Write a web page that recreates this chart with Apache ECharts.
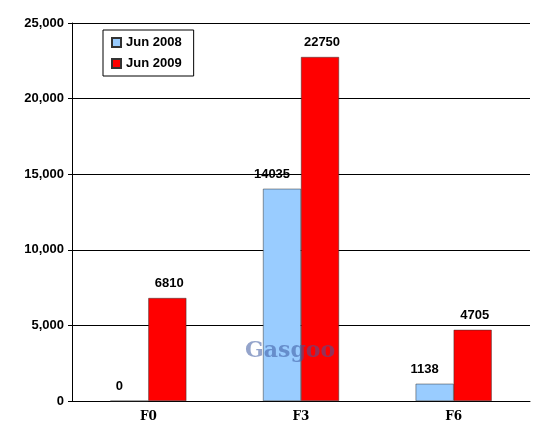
<!DOCTYPE html>
<html>
<head>
<meta charset="utf-8">
<script src="https://cdn.jsdelivr.net/npm/echarts@6/dist/echarts.min.js"></script>
<style>html,body{margin:0;padding:0;background:#fff}#chart{width:550px;height:444px}</style>
</head>
<body>
<div id="chart"></div>
<script>
// data
var categories = ['F0', 'F3', 'F6'];
var jun2008 = [0, 14035, 1138];
var jun2009 = [6810, 22750, 4705];

function labelStyle(dx) {
    return {
        show: true,
        position: 'top',
        color: '#000',
        fontWeight: 'bold',
        fontSize: 13,
        fontFamily: 'Liberation Sans',
        distance: 8,
        offset: [dx, 0]
    };
}

var chart = echarts.init(document.getElementById('chart'));
chart.setOption({
    animation: false,
    grid: { left: 72, right: 20, top: 23, bottom: 43, containLabel: false },
    legend: {
        left: 103, top: 30, orient: 'vertical', itemGap: 8,
        itemWidth: 9, itemHeight: 9, icon: 'rect',
        padding: [6, 12, 6, 8],
        borderColor: '#000', borderWidth: 1,
        textStyle: { fontWeight: 'bold', fontSize: 13, fontFamily: 'Liberation Sans', color: '#000' },
        data: ['Jun 2008', 'Jun 2009']
    },
    xAxis: {
        type: 'category',
        data: categories,
        axisTick: { show: false },
        axisLine: { lineStyle: { color: '#000' } },
        axisLabel: { color: '#000', fontWeight: 'bold', fontFamily: 'DejaVu Serif', fontSize: 12, margin: 10 }
    },
    yAxis: {
        type: 'value', min: 0, max: 25000, interval: 5000,
        axisLine: { show: true, lineStyle: { color: '#000' } },
        axisTick: { show: true, length: 4, lineStyle: { color: '#000' } },
        splitLine: { lineStyle: { color: '#000', width: 1 } },
        axisLabel: {
            color: '#000', fontWeight: 'bold', fontFamily: 'Liberation Sans', fontSize: 13,
            formatter: function (v) { return v.toLocaleString('en-US'); }
        }
    },
    series: [
        {
            name: 'Jun 2008', type: 'bar', data: jun2008, barWidth: 38, barGap: '0%',
            itemStyle: { color: '#99CCFF', borderColor: '#333', borderWidth: 0.5 },
            label: labelStyle(-10)
        },
        {
            name: 'Jun 2009', type: 'bar', data: jun2009, barWidth: 38,
            itemStyle: { color: '#FF0000', borderColor: '#333', borderWidth: 0.5 },
            label: labelStyle(2)
        }
    ],
    graphic: [{
        type: 'text', left: 245, top: 340, z: 100,
        style: { text: 'Gasgoo', fill: 'rgba(60,90,160,0.55)', font: 'bold 22px "DejaVu Serif"' }
    }]
});
</script>
</body>
</html>
